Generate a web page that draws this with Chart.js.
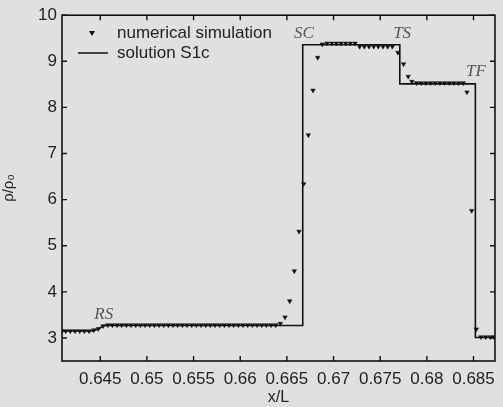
<!DOCTYPE html>
<html>
<head>
<meta charset="utf-8">
<script src="https://cdn.jsdelivr.net/npm/chart.js@4.4.1/dist/chart.umd.min.js"></script>
<style>
  body { margin: 0; background: #e0e0e0; }
  canvas { display: block; }
</style>
</head>
<body>
<canvas id="grafico" width="503" height="407"></canvas>
<script>
// numerical simulation (x/L, rho/rho0)
var xs = [
    0.6409, 0.6413, 0.6418, 0.6423, 0.6428, 0.6433, 0.6438, 0.6443, 0.6448, 0.6453, 0.6458,
    0.6463, 0.6468, 0.6473, 0.6478, 0.6483, 0.6488, 0.6493, 0.6498, 0.6503, 0.6508, 0.6513, 0.6518,
    0.6523, 0.6528, 0.6533, 0.6538, 0.6543, 0.6548, 0.6553, 0.6558, 0.6563, 0.6568, 0.6573, 0.6578,
    0.6583, 0.6588, 0.6593, 0.6598, 0.6603, 0.6608, 0.6613, 0.6618, 0.6623, 0.6628, 0.6633, 0.6638,
    0.6643, 0.6648, 0.6653, 0.6658, 0.6663, 0.6668, 0.6673, 0.6678, 0.6683, 0.6688,
    0.6693, 0.6698, 0.6703, 0.6708, 0.6713, 0.6718, 0.6723,
    0.6728, 0.6733, 0.6738, 0.6743, 0.6748, 0.6753, 0.6758, 0.6763,
    0.6769, 0.6775, 0.6780, 0.6784,
    0.6789, 0.6794, 0.6799, 0.6804, 0.6809, 0.6814, 0.6819, 0.6824, 0.6829, 0.6834, 0.6839,
    0.6843, 0.6848, 0.6853, 0.6858, 0.6863, 0.6868, 0.6872
];
var ys = [
    3.15, 3.15, 3.15, 3.15, 3.15, 3.15, 3.15, 3.17, 3.20, 3.26, 3.28,
    3.28, 3.28, 3.28, 3.28, 3.28, 3.28, 3.28, 3.28, 3.28, 3.28, 3.28, 3.28,
    3.28, 3.28, 3.28, 3.28, 3.28, 3.28, 3.28, 3.28, 3.28, 3.28, 3.28, 3.28,
    3.28, 3.28, 3.28, 3.28, 3.28, 3.28, 3.28, 3.28, 3.28, 3.28, 3.28, 3.28,
    3.31, 3.45, 3.80, 4.45, 5.31, 6.34, 7.40, 8.37, 9.08, 9.37,
    9.39, 9.39, 9.39, 9.39, 9.39, 9.39, 9.39,
    9.32, 9.32, 9.32, 9.32, 9.32, 9.32, 9.32, 9.32,
    9.19, 8.94, 8.67, 8.56,
    8.53, 8.53, 8.53, 8.53, 8.53, 8.53, 8.53, 8.53, 8.53, 8.53, 8.53,
    8.33, 5.76, 3.19, 3.02, 3.02, 3.02, 3.02
];

// solution S1c
var solX = [0.6409, 0.6443, 0.6455, 0.6667, 0.6667, 0.6771, 0.6771, 0.6852, 0.6852, 0.6873];
var solY = [3.15, 3.15, 3.27, 3.27, 9.36, 9.36, 8.51, 8.51, 3.01, 3.01];

var xTicks = [0.645, 0.65, 0.655, 0.66, 0.665, 0.67, 0.675, 0.68, 0.685];
var yTicks = [3, 4, 5, 6, 7, 8, 9, 10];

// wave labels
var ondas = ['RS', 'SC', 'TS', 'TF'];
var ondasX = [0.64537, 0.66683, 0.67735, 0.68527];
var ondasY = [3.50, 9.61, 9.61, 8.78];

function juntar(a, b) {
    return a.map(function (v, i) { return { x: v, y: b[i] }; });
}

var fonte = 'Liberation Sans, Arial, sans-serif';

var moldura = {
    id: 'moldura',
    afterDraw: function (chart) {
        var ctx = chart.ctx;
        var a = chart.chartArea;
        var sx = chart.scales.x, sy = chart.scales.y;
        ctx.save();
        ctx.strokeStyle = '#111';
        ctx.lineWidth = 1.6;
        ctx.strokeRect(a.left, a.top, a.right - a.left, a.bottom - a.top);
        ctx.lineWidth = 1.4;
        ctx.beginPath();
        xTicks.forEach(function (v) {
            var p = sx.getPixelForValue(v);
            ctx.moveTo(p, a.bottom); ctx.lineTo(p, a.bottom - 5);
            ctx.moveTo(p, a.top); ctx.lineTo(p, a.top + 5);
        });
        yTicks.forEach(function (v) {
            var p = sy.getPixelForValue(v);
            ctx.moveTo(a.left, p); ctx.lineTo(a.left + 5, p);
            ctx.moveTo(a.right, p); ctx.lineTo(a.right - 5, p);
        });
        ctx.stroke();

        // legend
        ctx.fillStyle = '#111';
        ctx.beginPath();
        ctx.moveTo(89, 31); ctx.lineTo(95, 31); ctx.lineTo(92, 36);
        ctx.closePath();
        ctx.fill();
        ctx.lineWidth = 1.5;
        ctx.beginPath();
        ctx.moveTo(78, 53); ctx.lineTo(108, 53);
        ctx.stroke();
        ctx.font = '17px ' + fonte;
        ctx.fillStyle = '#222';
        ctx.textBaseline = 'middle';
        ctx.textAlign = 'left';
        ctx.fillText('numerical simulation', 117, 33);
        ctx.fillText('solution S1c', 117, 53);

        // SC, TS, TF, RS
        ctx.font = 'italic 17px Liberation Serif, Times New Roman, serif';
        ctx.fillStyle = '#555';
        ctx.textAlign = 'center';
        ondas.forEach(function (t, i) {
            ctx.fillText(t, sx.getPixelForValue(ondasX[i]), sy.getPixelForValue(ondasY[i]));
        });
        ctx.restore();
    }
};

new Chart(document.getElementById('grafico'), {
    type: 'scatter',
    data: {
        datasets: [{
            label: 'numerical simulation',
            data: juntar(xs, ys),
            pointStyle: 'triangle',
            rotation: 180,
            pointRadius: 2.6,
            backgroundColor: '#111',
            borderColor: '#111',
            borderWidth: 0.5,
            showLine: false
        }, {
            label: 'solution S1c',
            data: juntar(solX, solY),
            showLine: true,
            pointRadius: 0,
            borderColor: '#111',
            borderWidth: 1.6,
            fill: false
        }]
    },
    options: {
        responsive: false,
        animation: false,
        devicePixelRatio: 1,
        layout: { padding: { left: 0, right: 2, top: 14, bottom: 0 } },
        plugins: {
            legend: { display: false },
            tooltip: { enabled: false }
        },
        scales: {
            x: {
                type: 'linear',
                min: 0.6409,
                max: 0.6873,
                grid: { display: false, drawTicks: false },
                border: { display: false },
                afterBuildTicks: function (s) { s.ticks = xTicks.map(function (v) { return { value: v }; }); },
                afterFit: function (s) { s.height = 46; },
                ticks: {
                    autoSkip: false,
                    maxRotation: 0,
                    padding: 8,
                    color: '#222',
                    font: { family: fonte, size: 17 },
                    callback: function (v) { return String(v); }
                },
                title: {
                    display: true,
                    text: 'x/L',
                    color: '#222',
                    font: { family: fonte, size: 16 },
                    padding: { top: 0, bottom: 0 }
                }
            },
            y: {
                min: 2.5,
                max: 10,
                grid: { display: false, drawTicks: false },
                border: { display: false },
                afterBuildTicks: function (s) { s.ticks = yTicks.map(function (v) { return { value: v }; }); },
                afterFit: function (s) { s.width = 62; },
                ticks: {
                    padding: 5,
                    color: '#222',
                    font: { family: fonte, size: 17 }
                },
                title: {
                    display: true,
                    text: 'ρ/ρ₀',
                    color: '#222',
                    font: { family: fonte, size: 15 },
                    padding: { top: 0, bottom: 0 }
                }
            }
        }
    },
    plugins: [moldura]
});
</script>
</body>
</html>
